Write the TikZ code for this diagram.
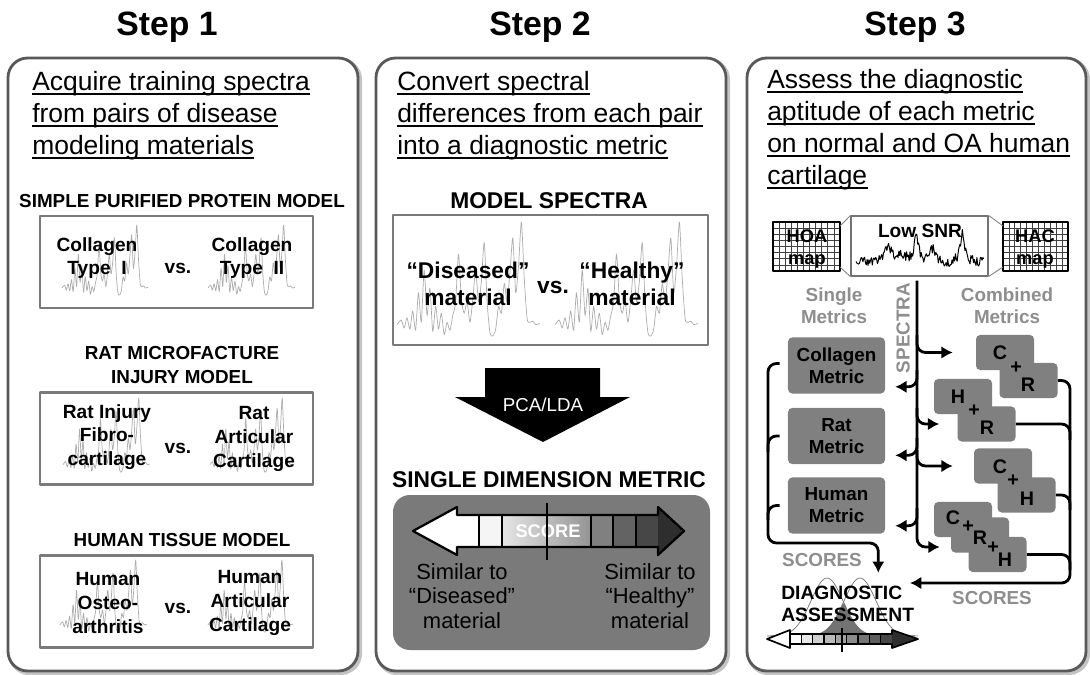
\documentclass[tikz,border=0pt]{standalone}
\usepackage{fontspec}
\setmainfont{Liberation Sans}
\usetikzlibrary{arrows.meta,calc}
\definecolor{panelgray}{HTML}{595959}
\definecolor{shadowgray}{HTML}{C4C4C4}
\definecolor{framegray}{HTML}{7A7A7A}
\definecolor{boxgray}{HTML}{808080}
\definecolor{labelgray}{HTML}{8E8E8E}
\definecolor{specgray}{HTML}{ADADAD}
\newcommand\fs[2]{\fontsize{#1}{#2}\selectfont}
\newcommand\spectrum[4]{\draw[specgray,line width=0.5pt,shift={(#1,#2)},x=#3*0.025cm,y=#4*0.025cm]
	plot[smooth,tension=0.4] coordinates {(0,.10) (.03,.14) (.05,.07) (.07,.16) (.09,.06) (.11,.22) (.13,.05) (.15,.38) (.17,.12) (.19,.58) (.21,.18) (.23,.42) (.25,.04) (.27,.26) (.29,.06) (.31,.2) (.33,.01) (.35,.12) (.37,.05) (.39,.18) (.41,.3) (.43,.72) (.45,.32) (.47,.2) (.49,.3) (.51,.12) (.53,.32) (.55,.58) (.57,.3) (.59,.48) (.61,.82) (.63,.3) (.65,.03) (.67,0) (.69,.06) (.71,.26) (.73,.2) (.75,.46) (.77,.3) (.79,.56) (.81,.86) (.83,.38) (.85,.62) (.87,1) (.89,.5) (.91,.15) (.93,.12) (.95,.13) (.97,.1) (1,.11)};}
\begin{document}
\begin{tikzpicture}[x=0.025cm,y=-0.025cm,line join=round,>={Latex[length=8pt,width=9pt]},
		steptitle/.style={font=\bfseries\fs{24}{28},anchor=base,inner sep=0pt},
		hdr/.style={font=\fs{18.8}{22},anchor=base west,inner sep=0pt},
		uline/.style={line width=1.3pt},
		panel/.style={draw=panelgray,line width=2pt,rounded corners=14pt,fill=white},
		shadow/.style={draw=shadowgray,line width=3pt,rounded corners=14pt},
		modelname/.style={font=\bfseries\fs{13.4}{17.5},align=center,inner sep=0pt},
		pairbox/.style={draw=framegray,line width=2pt,minimum width=6.825cm,minimum height=2.3cm,inner sep=0pt},
		pairtxt/.style={font=\bfseries\fs{13.6}{16.8},align=center,inner sep=0pt},
		bigtxt/.style={font=\bfseries\fs{16.2}{19.5},align=center,inner sep=0pt},
		simtxt/.style={font=\fs{15.6}{17.5},align=center,inner sep=0pt},
		wtxt/.style={text=white,inner sep=0pt},
		gtxt/.style={text=labelgray,font=\bfseries\fs{13.4}{15.6},align=center,inner sep=0pt},
		metric/.style={fill=boxgray,rounded corners=3pt,minimum width=2.425cm,minimum height=1.4cm,align=center,font=\bfseries\fs{13.4}{15.6},inner sep=0pt},
		cbox/.style={fill=boxgray,rounded corners=3pt,minimum width=1.45cm,minimum height=0.875cm,inner sep=0pt},
		cl/.style={font=\bfseries\fs{14}{14},inner sep=0pt},
		maptxt/.style={font=\bfseries\fs{13}{15.6},align=center,inner sep=0pt},
		conn/.style={line width=2pt,rounded corners=6pt},
		cell/.style={line width=0.9pt}]
	\useasboundingbox (0,0) rectangle (1090,675);
	% titles
	\node[steptitle] (t1) at (167,36) {Step 1};
	\node[steptitle] (t2) at (540,36) {Step 2};
	\node[steptitle] (t3) at (915,36) {Step 3};
	% panels
	\draw[shadow] (10,60) rectangle (360,673);
	\draw[panel] (8,58) rectangle (358,671);
	\draw[shadow] (378,60) rectangle (728,673);
	\draw[panel] (376,58) rectangle (726,671);
	\draw[shadow] (749,60) rectangle (1088,673);
	\draw[panel] (747,58) rectangle (1086,671);
	% headers
	\node[hdr] (h11) at (32,91) {Acquire training spectra};
	\node[hdr] (h12) at (32,123) {from pairs of disease};
	\node[hdr] (h13) at (32,155) {modeling materials};
	\node[hdr] (h21) at (397,91) {Convert spectral};
	\node[hdr] (h22) at (397,123) {differences from each pair};
	\node[hdr] (h23) at (397,155) {into a diagnostic metric};
	\node[hdr] (h31) at (767,89) {Assess the diagnostic};
	\node[hdr] (h32) at (767,121) {aptitude of each metric};
	\node[hdr] (h33) at (767,153) {on normal and OA human};
	\node[hdr] (h34) at (767,185) {cartilage};
	\foreach \n in {h11,h12,h13,h21,h22,h23,h31,h32,h33,h34}
		\draw[uline] ($(\n.base west)+(0,3)$) -- ($(\n.base east)+(0,3)$);
	% step 1
	\node[modelname] (m1) at (182,201) {SIMPLE PURIFIED PROTEIN MODEL};
	\node[modelname] (m2) at (182,365) {RAT MICROFACTURE\\INJURY MODEL};
	\node[modelname] (m3) at (182,540) {HUMAN TISSUE MODEL};
	\node[pairbox] (b1) at (176.5,262) {};
	\node[pairbox] (b2) at (176.5,438.5) {};
	\node[pairbox] (b3) at (176.5,601.5) {};
	\spectrum{62}{295}{86}{70}
	\spectrum{208}{295}{87}{70}
	\spectrum{63}{472}{87}{74}
	\spectrum{210}{472}{83}{74}
	\spectrum{60}{632}{87}{72}
	\spectrum{208}{632}{85}{72}
	\node[pairtxt] (c1) at (97,258) {Collagen\\Type~ I};
	\node[pairtxt] (vs1) at (178,268) {vs.};
	\node[pairtxt] (c2) at (252,258) {Collagen\\Type~ II};
	\node[pairtxt] (r1) at (107,437) {Rat Injury\\Fibro-\\cartilage};
	\node[pairtxt] (vs2) at (178,448) {vs.};
	\node[pairtxt] (r2) at (254,439) {Rat\\Articular\\Cartilage};
	\node[pairtxt] (u1) at (108,603) {Human\\Osteo-\\arthritis};
	\node[pairtxt] (vs3) at (178,608) {vs.};
	\node[pairtxt] (u2) at (250,603) {Human\\Articular\\Cartilage};
	% step 2
	\node[bigtxt] (ms) at (549,201) {MODEL SPECTRA};
	\node[pairbox,minimum width=7.875cm,minimum height=3.25cm] (msbox) at (550.5,280) {};
	\spectrum{397}{336}{143}{114}
	\spectrum{555}{336}{143}{114}
	\node[bigtxt] (dis) at (468,284) {“Diseased”\\material};
	\node[bigtxt] (vs4) at (553,287) {vs.};
	\node[bigtxt] (hea) at (632,284) {“Healthy”\\material};
	\fill (485,368) -- (600,368) -- (600,397) -- (630,397) -- (543,442) -- (455,397) -- (485,397) -- cycle;
	\node[wtxt,font=\fs{13.3}{15}] (pca) at (543,405) {PCA/LDA};
	\node[bigtxt] (sdm) at (549,480) {SINGLE DIMENSION METRIC};
	\fill[black!52,rounded corners=12pt] (393,495) rectangle (710,650);
	\fill[white] (413,531) -- (457,507) -- (457,555) -- cycle;
	\fill[black!82] (684,531) -- (658,507) -- (658,555) -- cycle;
	\fill[white] (457,515) rectangle (479.3,547);
	\fill[black!4] (479.3,515) rectangle (501.7,547);
	\shade[left color=black!10,right color=black!42] (501.7,515) rectangle (591,547);
	\foreach \i/\s in {6/50,7/61,8/72}
		\fill[black!\s] ({457+\i*22.33},515) rectangle ++(22.33,32);
	\foreach \i in {1,2,6,7,8}
		\draw[line width=1.4pt] ({457+\i*22.33},515) -- ++(0,32);
	\draw[line width=1.6pt] (413,531) -- (457,507) -- (457,515) -- (658,515) -- (658,507) -- (684,531) -- (658,555) -- (658,547) -- (457,547) -- (457,555) -- cycle;
	\node[wtxt,font=\bfseries\fs{13}{15}] (score) at (548,531) {SCORE};
	\draw[line width=1.5pt] (547,503) -- (547,560);
	\node[simtxt] (simd) at (462,596) {Similar to\\“Diseased”\\material};
	\node[simtxt] (simh) at (650,596) {Similar to\\“Healthy”\\material};
	% step 3
	\foreach \i in {0,...,11} {
		\draw[black!75,line width=0.5pt] ({773+\i*6.09},222) -- ++(0,49);
		\draw[black!75,line width=0.5pt] ({1003+\i*5.91},222) -- ++(0,49);}
	\foreach \j in {0,...,8} {
		\draw[black!75,line width=0.5pt] (773,{222+\j*6.125}) -- ++(67,0);
		\draw[black!75,line width=0.5pt] (1003,{222+\j*6.125}) -- ++(65,0);}
	\draw[line width=1pt] (773,222) rectangle (840,271);
	\draw[line width=1pt] (1003,222) rectangle (1068,271);
	\node[draw=black!55,line width=0.8pt,minimum width=3.425cm,minimum height=1.5cm,inner sep=0pt] (snr) at (919.5,246) {};
	\draw[black!50,line width=0.6pt] (snr.north west) -- (840,226) (snr.south west) -- (840,267);
	\draw[black!50,line width=0.6pt] (snr.north east) -- (1003,226) (snr.south east) -- (1003,267);
	\node[maptxt] (hoa) at (807,249) {HOA\\map};
	\node[maptxt] (hac) at (1035,249) {HAC\\map};
	\node[font=\bfseries\fs{13.6}{15},inner sep=0pt] (lsnr) at (920,231) {Low SNR};
	\pgfmathsetseed{11}
	\draw[line width=0.7pt] plot[domain=0:1,samples=150] ({856+128*\x},{262-30*(0.5/(1+((\x-0.25)/0.03)^2)+0.85/(1+((\x-0.47)/0.02)^2)+0.45/(1+((\x-0.6)/0.025)^2)+1/(1+((\x-0.83)/0.018)^2)+0.25/(1+((\x-0.35)/0.04)^2)-0.3/(1+((\x-0.69)/0.015)^2))-5*rand});
	\node[gtxt] (sing) at (834,306) {Single\\Metrics};
	\node[gtxt] (comb) at (1007,306) {Combined\\Metrics};
	\node[gtxt,rotate=90] (spl) at (903,328) {SPECTRA};
	\node[metric] (colm) at (836.5,365.5) {Collagen\\Metric};
	\node[metric] (ratm) at (836.5,436) {Rat\\Metric};
	\node[metric] (humm) at (836.5,505.5) {Human\\Metric};
	\node[cbox] (crC) at (1005,352.5) {};
	\node[cbox] (crR) at (1028.5,380.5) {};
	\node[cbox] (hrH) at (963,396.5) {};
	\node[cbox] (hrR) at (986.5,424) {};
	\node[cbox] (chC) at (1003,466) {};
	\node[cbox] (chH) at (1026.5,495) {};
	\node[cbox] (crhC) at (963,519.5) {};
	\node[cbox] (crhR) at (980,535) {};
	\node[cbox] (crhH) at (997.5,554.5) {};
	\node[cl] (l1) at (1000,353) {C};
	\node[cl] (l2) at (1016,368) {+};
	\node[cl] (l3) at (1028,385) {R};
	\node[cl] (l4) at (958,397) {H};
	\node[cl] (l5) at (974,411) {+};
	\node[cl] (l6) at (987,428) {R};
	\node[cl] (l7) at (1000,467) {C};
	\node[cl] (l8) at (1013,481) {+};
	\node[cl] (l9) at (1027,499) {H};
	\node[cl] (l10) at (953,518) {C};
	\node[cl] (l11) at (968,527) {+};
	\node[cl] (l12) at (980,538) {R};
	\node[cl] (l13) at (993,548) {+};
	\node[cl] (l14) at (1005,560) {H};
	\coordinate (top) at ($(snr.south)+(-2.5,4)$);
	\coordinate (scin) at (910,583);
	\draw[conn,->] (top) |- ($(crhR.west)+(-11,12)$);
	\draw[conn,->] (917,335) |- ($(crC.west)+(-23,0)$);
	\draw[conn,->] (917,370) |- ($(colm.south east)+(10,-7)$);
	\draw[conn,->] (917,408) |- ($(hrR.west)+(-18,0)$);
	\draw[conn,->] (917,438) |- ($(ratm.south east)+(10,-9)$);
	\draw[conn,->] (917,450) |- ($(chC.west)+(-21,0)$);
	\draw[conn,->] (917,508) |- ($(humm.south east)+(10,-8)$);
	\draw[conn,->] ($(colm.west)+(-8,-2)$) -| (768,543) -| ($(humm.south east)+(-7,39)$);
	\draw[conn] ($(ratm.west)+(-8,0)$) -| (768,452);
	\draw[conn] ($(humm.west)+(-8,0)$) -| (768,520);
	\draw[conn,->] (crR.east) -| (1070,583) -- (scin);
	\draw[conn] (hrR.east) -| (1070,440);
	\draw[conn] (chH.east) -| (1070,510);
	\draw[conn] (crhH.east) -| (1070,570);
	\node[gtxt] (sc1) at (822,560) {SCORES};
	\node[gtxt] (sc2) at (992,598) {SCORES};
	\draw[black!55,line width=0.5pt] plot[domain=767:915,samples=80] (\x,{636-58*exp(-((\x-827)^2)/512)});
	\draw[black!55,line width=0.5pt] plot[domain=770:918,samples=80] (\x,{636-58*exp(-((\x-860)^2)/512)});
	\fill[black!55] plot[domain=800:887,samples=60] (\x,{636-58*min(exp(-((\x-827)^2)/512),exp(-((\x-860)^2)/512))}) -- cycle;
	\node[font=\bfseries\fs{13.7}{15.6},align=left,anchor=west,inner sep=0pt] (diag) at (781,604) {DIAGNOSTIC\\ASSESSMENT};
	\fill[white] (767,639) -- (790,630) -- (790,648) -- cycle;
	\fill[black!82] (918,639) -- (892,630) -- (892,648) -- cycle;
	\foreach \i in {0,...,8} {
		\pgfmathtruncatemacro\s{\i*9}
		\fill[black!\s] ({790+\i*11.33},634) rectangle ++(11.33,10);
		\draw[cell] ({790+\i*11.33},634) -- ++(0,10);}
	\draw[line width=1.2pt] (767,639) -- (790,630) -- (790,634) -- (892,634) -- (892,630) -- (918,639) -- (892,648) -- (892,644) -- (790,644) -- (790,648) -- cycle;
	\draw[line width=1.2pt] (842,628) -- (842,652);
\end{tikzpicture}
\end{document}
